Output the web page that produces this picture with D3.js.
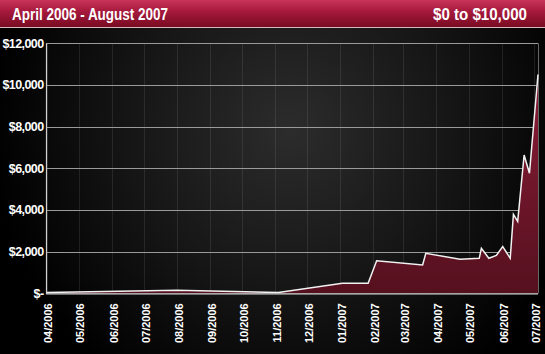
<!DOCTYPE html>
<html>
<head>
<meta charset="utf-8">
<script src="https://cdn.jsdelivr.net/npm/d3@7"></script>
<style>
  html, body { margin: 0; padding: 0; background: #000; }
  svg { display: block; }
</style>
</head>
<body>
<svg id="chart"></svg>
<script>
// data
const titleLeft = "April 2006 - August 2007";
const titleRight = "$0 to $10,000";
const dates = ["2006-04-01", "2006-08-01", "2006-11-04", "2007-01-03", "2007-01-27", "2007-02-04",
  "2007-03-19", "2007-03-22", "2007-04-23", "2007-05-11", "2007-05-13", "2007-05-20", "2007-05-27",
  "2007-06-02", "2007-06-09", "2007-06-12", "2007-06-16", "2007-06-22", "2007-06-27", "2007-07-05"];
const values = [40, 150, 40, 480, 480, 1565,
  1360, 1920, 1630, 1680, 2160, 1680, 1815,
  2245, 1680, 3790, 3450, 6640, 5760, 10500];
const yTicks = [0, 2000, 4000, 6000, 8000, 10000, 12000];

const width = 545, height = 354;
const svg = d3.select('#chart').attr('width', width).attr('height', height);
const defs = svg.append('defs');

// background glow
const bg = defs.append('radialGradient').attr('id', 'bg')
  .attr('gradientUnits', 'userSpaceOnUse')
  .attr('cx', 290).attr('cy', 130).attr('r', 300);
bg.append('stop').attr('offset', '0%').attr('stop-color', '#2c2c2c');
bg.append('stop').attr('offset', '55%').attr('stop-color', '#151515');
bg.append('stop').attr('offset', '100%').attr('stop-color', '#000');

const head = defs.append('linearGradient').attr('id', 'head')
  .attr('x1', 0).attr('y1', 0).attr('x2', 0).attr('y2', 1);
head.append('stop').attr('offset', '0%').attr('stop-color', '#c8345a');
head.append('stop').attr('offset', '40%').attr('stop-color', '#a81a3e');
head.append('stop').attr('offset', '100%').attr('stop-color', '#780b22');

const fillG = defs.append('linearGradient').attr('id', 'fillG')
  .attr('x1', 0).attr('y1', 0).attr('x2', 0).attr('y2', 1);
fillG.append('stop').attr('offset', '0%').attr('stop-color', '#8a1d38');
fillG.append('stop').attr('offset', '100%').attr('stop-color', '#55101e');

svg.append('rect').attr('width', width).attr('height', height).attr('fill', 'url(#bg)');

// header
svg.append('rect').attr('width', width).attr('height', 27).attr('fill', 'url(#head)');
svg.append('rect').attr('y', 27).attr('width', width).attr('height', 1).attr('fill', '#d8b8c0');
svg.append('text').attr('x', 12).attr('y', 20)
  .attr('fill', '#fff').attr('font-family', "'Liberation Sans Narrow', 'Liberation Sans', Arial, sans-serif")
  .attr('font-weight', 'bold').attr('font-size', 16)
  .attr('textLength', 156).attr('lengthAdjust', 'spacingAndGlyphs')
  .text(titleLeft);
svg.append('text').attr('x', 527).attr('y', 20).attr('text-anchor', 'end')
  .attr('fill', '#fff').attr('font-family', "'Liberation Sans Narrow', 'Liberation Sans', Arial, sans-serif")
  .attr('font-weight', 'bold').attr('font-size', 16)
  .attr('textLength', 94).attr('lengthAdjust', 'spacingAndGlyphs')
  .text(titleRight);

const parse = d3.timeParse('%Y-%m-%d');
const data = dates.map((d, i) => ({ date: parse(d), value: values[i] }));

const pLeft = 46.5, pRight = 538, pTop = 43.3, pBottom = 293.3;
const x = d3.scaleTime().domain([parse('2006-04-01'), parse('2007-07-05')]).range([pLeft, pRight]);
const y = d3.scaleLinear().domain([0, 12000]).range([pBottom, pTop]);
const months = x.ticks(d3.timeMonth.every(1));

// vertical grid
svg.append('g').selectAll('line').data(months).enter().append('line')
  .attr('x1', d => Math.round(x(d)) + 0.5).attr('x2', d => Math.round(x(d)) + 0.5)
  .attr('y1', pTop).attr('y2', pBottom)
  .attr('stroke', '#fff').attr('stroke-opacity', 0.09);

// horizontal grid
svg.append('g').selectAll('line').data(yTicks.slice(1)).enter().append('line')
  .attr('x1', pLeft).attr('x2', pRight)
  .attr('y1', d => Math.round(y(d)) + 0.5).attr('y2', d => Math.round(y(d)) + 0.5)
  .attr('stroke', '#9a9a9a').attr('stroke-width', 1.2);

// right frame
svg.append('line').attr('x1', pRight + 0.5).attr('x2', pRight + 0.5).attr('y1', pTop).attr('y2', pBottom)
  .attr('stroke', '#666');

// area + line
const area = d3.area().x(d => x(d.date)).y0(pBottom).y1(d => y(d.value));
const line = d3.line().x(d => x(d.date)).y(d => y(d.value));
svg.append('path').datum(data).attr('d', area).attr('fill', 'url(#fillG)');
svg.append('path').datum(data).attr('d', line)
  .attr('fill', 'none').attr('stroke', '#f2f2f2').attr('stroke-width', 1.5)
  .attr('stroke-linejoin', 'miter');

// axes lines
svg.append('line').attr('x1', pLeft).attr('x2', pLeft).attr('y1', pTop).attr('y2', pBottom + 1)
  .attr('stroke', '#d0d0d0').attr('stroke-width', 1.2);
svg.append('line').attr('x1', pLeft).attr('x2', pRight).attr('y1', pBottom + 0.5).attr('y2', pBottom + 0.5)
  .attr('stroke', '#d8d8d8').attr('stroke-width', 1.2);

// y axis
const yAxis = svg.append('g').attr('transform', `translate(${pLeft},0)`)
  .call(d3.axisLeft(y).tickValues(yTicks).tickSize(0).tickPadding(3)
    .tickFormat(d => d === 0 ? '$-' : d3.format('$,')(d)));
yAxis.select('.domain').remove();
yAxis.selectAll('text')
  .attr('fill', '#fff').attr('font-family', "'Liberation Sans', Arial, sans-serif")
  .attr('font-weight', 'bold').attr('font-size', 12.5).attr('letter-spacing', -0.6);

// x axis
const xAxis = svg.append('g').attr('transform', `translate(0,${pBottom})`)
  .call(d3.axisBottom(x).tickValues(months).tickSize(0)
    .tickFormat(d3.timeFormat('%m/%Y')));
xAxis.select('.domain').remove();
xAxis.selectAll('text')
  .attr('fill', '#fff').attr('font-family', "'Liberation Sans', Arial, sans-serif")
  .attr('font-weight', 'bold').attr('font-size', 11)
  .attr('text-anchor', 'end')
  .attr('transform', 'translate(1.5,10) rotate(-90)')
  .attr('x', 0).attr('y', 0).attr('dy', '0.35em');
</script>
</body>
</html>
